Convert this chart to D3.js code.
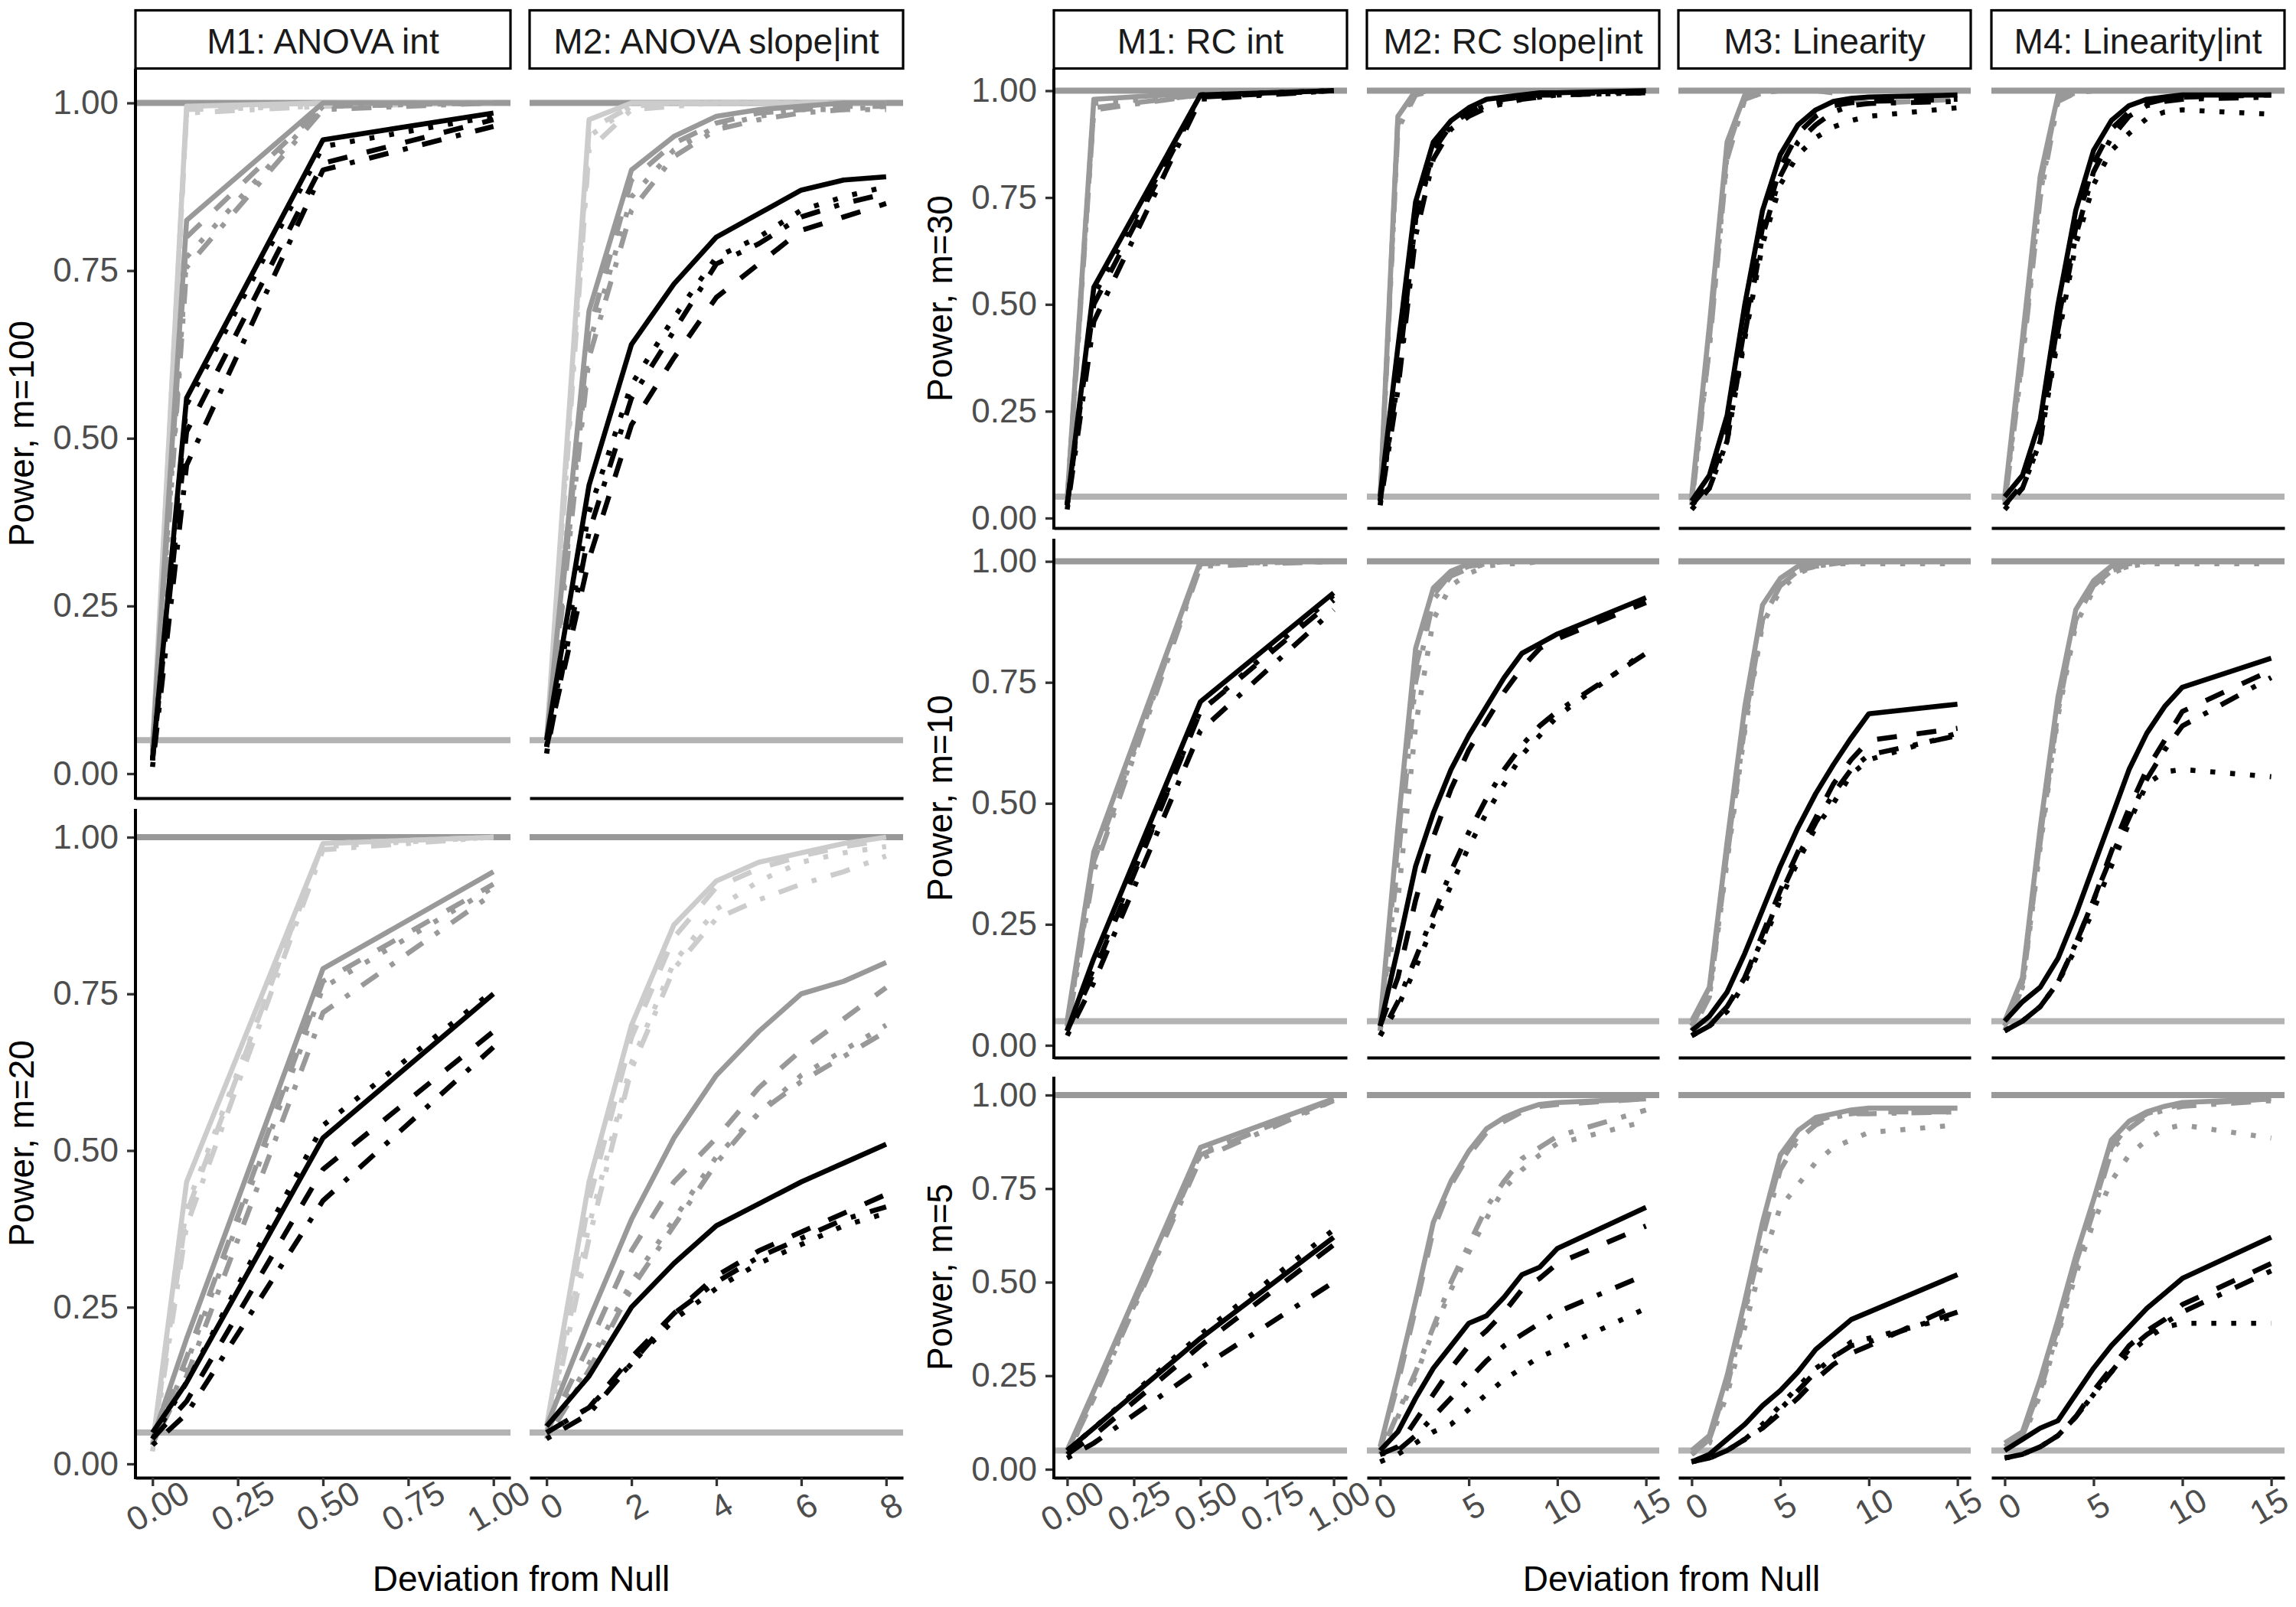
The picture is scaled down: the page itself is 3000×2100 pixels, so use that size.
<!DOCTYPE html>
<html>
<head>
<meta charset="utf-8">
<script src="https://cdn.jsdelivr.net/npm/d3@7"></script>
<style>
  body { margin: 0; background: #fff; }
  text { font-family: "Liberation Sans", Arial, Helvetica, sans-serif; }
</style>
</head>
<body>
<div id="chart"></div>
<script>
// ---- x grids (deviation from null) ----
const xInt = [0, 0.1, 0.5, 1];
const xSlope8 = [0, 1, 2, 3, 4, 5, 6, 7, 8];
const xDev15 = [0, 1, 2, 3, 4, 5, 6, 7, 8, 9, 10, 15];

// ---- tick labels ----
const yTicks = [0, 0.25, 0.5, 0.75, 1];
const xTicksUnit = [0, 0.25, 0.5, 0.75, 1];
const xTicks8 = [0, 2, 4, 6, 8];
const xTicks15 = [0, 5, 10, 15];

const leftTitles = ["M1: ANOVA int", "M2: ANOVA slope|int"];
const rightTitles = ["M1: RC int", "M2: RC slope|int", "M3: Linearity", "M4: Linearity|int"];
const leftRowLabels = ["Power, m=100", "Power, m=20"];
const rightRowLabels = ["Power, m=30", "Power, m=10", "Power, m=5"];

// groups (shade) and tests (linetype)
const leftGroups = ["light", "mid", "dark"];
const rightGroups = ["mid", "dark"];
const tests = ["A", "B", "C", "D"];

// power values: [group][test][i] at the panel's x grid
const anovaInt_m100 = [
  [[0.04, 0.995, 1, 1], [0.03, 0.99, 1, 1], [0.03, 0.99, 0.995, 1], [0.02, 0.985, 0.995, 1]],
  [[0.04, 0.825, 1, 1], [0.03, 0.80, 0.995, 1], [0.03, 0.77, 0.995, 1], [0.02, 0.755, 0.99, 1]],
  [[0.02, 0.56, 0.945, 0.985], [0.02, 0.51, 0.91, 0.975], [0.02, 0.55, 0.935, 0.98], [0.01, 0.46, 0.90, 0.965]]
];
const anovaSlope_m100 = [
  [[0.05, 0.975, 1, 1, 1, 1, 1, 1, 1], [0.04, 0.96, 0.995, 1, 1, 1, 1, 1, 1], [0.04, 0.95, 0.995, 1, 1, 1, 1, 1, 1], [0.03, 0.93, 0.99, 0.995, 1, 1, 1, 1, 1]],
  [[0.05, 0.69, 0.90, 0.95, 0.98, 0.99, 0.995, 1, 1], [0.04, 0.66, 0.885, 0.94, 0.97, 0.985, 0.99, 0.995, 0.995], [0.04, 0.64, 0.86, 0.93, 0.965, 0.98, 0.99, 0.99, 0.995], [0.03, 0.62, 0.84, 0.92, 0.96, 0.975, 0.985, 0.99, 0.99]],
  [[0.05, 0.43, 0.64, 0.73, 0.80, 0.835, 0.87, 0.885, 0.89], [0.04, 0.32, 0.52, 0.62, 0.71, 0.76, 0.81, 0.83, 0.85], [0.04, 0.39, 0.58, 0.68, 0.77, 0.80, 0.84, 0.86, 0.875], [0.03, 0.36, 0.56, 0.66, 0.76, 0.79, 0.83, 0.85, 0.865]]
];
const anovaInt_m20 = [
  [[0.03, 0.45, 0.99, 1], [0.03, 0.40, 0.99, 1], [0.03, 0.41, 0.985, 1], [0.02, 0.38, 0.98, 1]],
  [[0.04, 0.20, 0.79, 0.945], [0.03, 0.17, 0.77, 0.925], [0.03, 0.16, 0.76, 0.92], [0.03, 0.14, 0.72, 0.91]],
  [[0.05, 0.13, 0.52, 0.75], [0.04, 0.10, 0.47, 0.69], [0.04, 0.13, 0.54, 0.755], [0.03, 0.08, 0.42, 0.665]]
];
const anovaSlope_m20 = [
  [[0.06, 0.45, 0.70, 0.86, 0.93, 0.96, 0.975, 0.99, 1.0], [0.05, 0.42, 0.68, 0.84, 0.92, 0.95, 0.97, 0.985, 0.995], [0.05, 0.38, 0.64, 0.80, 0.885, 0.93, 0.96, 0.975, 0.985], [0.04, 0.36, 0.63, 0.79, 0.87, 0.90, 0.925, 0.945, 0.97]],
  [[0.06, 0.23, 0.39, 0.52, 0.62, 0.69, 0.75, 0.77, 0.80], [0.05, 0.19, 0.34, 0.45, 0.52, 0.60, 0.66, 0.71, 0.76], [0.05, 0.16, 0.29, 0.39, 0.49, 0.56, 0.62, 0.66, 0.70], [0.04, 0.15, 0.28, 0.38, 0.48, 0.56, 0.61, 0.65, 0.69]],
  [[0.06, 0.14, 0.25, 0.32, 0.38, 0.415, 0.45, 0.48, 0.51], [0.05, 0.09, 0.17, 0.24, 0.30, 0.34, 0.37, 0.40, 0.43], [0.05, 0.09, 0.16, 0.23, 0.28, 0.32, 0.35, 0.38, 0.40], [0.04, 0.08, 0.16, 0.24, 0.29, 0.33, 0.36, 0.39, 0.41]]
];

const rcInt_m30 = [
  [[0.045, 0.98, 0.995, 1], [0.04, 0.96, 0.99, 1], [0.04, 0.97, 0.99, 1], [0.03, 0.955, 0.99, 1]],
  [[0.03, 0.54, 0.99, 1], [0.03, 0.50, 0.985, 1], [0.03, 0.52, 0.99, 1], [0.02, 0.46, 0.98, 1]]
];
const rcSlope_m30 = [
  [[0.05, 0.94, 1, 1, 1, 1, 1, 1, 1, 1, 1, 1], [0.04, 0.93, 0.995, 1, 1, 1, 1, 1, 1, 1, 1, 1], [0.04, 0.92, 0.995, 1, 1, 1, 1, 1, 1, 1, 1, 1], [0.03, 0.91, 0.99, 1, 1, 1, 1, 1, 1, 1, 1, 1]],
  [[0.05, 0.40, 0.74, 0.88, 0.93, 0.96, 0.98, 0.985, 0.99, 0.995, 0.995, 1], [0.04, 0.33, 0.70, 0.86, 0.92, 0.95, 0.97, 0.98, 0.985, 0.99, 0.99, 1], [0.04, 0.32, 0.70, 0.85, 0.92, 0.95, 0.965, 0.975, 0.98, 0.985, 0.99, 0.995], [0.03, 0.30, 0.66, 0.84, 0.91, 0.94, 0.96, 0.97, 0.98, 0.985, 0.99, 0.995]]
];
const linearity_m30 = [
  [[0.05, 0.45, 0.88, 0.99, 1, 1, 1, 1, 1, 1, 1, 1], [0.04, 0.42, 0.86, 0.985, 1, 1, 1, 1, 0.995, 0.98, 0.97, 0.98], [0.04, 0.40, 0.85, 0.98, 0.995, 1, 1, 1, 1, 1, 1, 1], [0.03, 0.40, 0.84, 0.98, 0.995, 1, 1, 1, 1, 1, 1, 1]],
  [[0.04, 0.10, 0.24, 0.50, 0.72, 0.85, 0.92, 0.955, 0.975, 0.982, 0.985, 0.99], [0.03, 0.08, 0.20, 0.45, 0.68, 0.82, 0.90, 0.94, 0.965, 0.972, 0.975, 0.98], [0.03, 0.07, 0.18, 0.42, 0.64, 0.78, 0.85, 0.89, 0.915, 0.93, 0.94, 0.96], [0.02, 0.07, 0.18, 0.43, 0.66, 0.80, 0.88, 0.92, 0.95, 0.965, 0.97, 0.975]]
];
const linearityInt_m30 = [
  [[0.05, 0.42, 0.80, 0.99, 1, 1, 1, 1, 1, 1, 1, 1], [0.04, 0.40, 0.78, 0.985, 1, 1, 1, 1, 1, 1, 1, 1], [0.04, 0.38, 0.76, 0.98, 0.995, 1, 1, 1, 1, 1, 1, 1], [0.03, 0.37, 0.75, 0.975, 0.995, 1, 1, 1, 1, 1, 1, 1]],
  [[0.05, 0.10, 0.23, 0.50, 0.72, 0.86, 0.93, 0.965, 0.98, 0.985, 0.99, 0.99], [0.03, 0.08, 0.20, 0.46, 0.68, 0.83, 0.91, 0.95, 0.97, 0.98, 0.985, 0.99], [0.03, 0.07, 0.18, 0.42, 0.64, 0.78, 0.86, 0.90, 0.935, 0.95, 0.955, 0.945], [0.02, 0.07, 0.18, 0.44, 0.66, 0.81, 0.89, 0.94, 0.965, 0.975, 0.98, 0.985]]
];

const rcInt_m10 = [
  [[0.05, 0.40, 1.0, 1], [0.04, 0.38, 0.995, 1], [0.04, 0.37, 0.995, 1], [0.03, 0.36, 0.99, 1]],
  [[0.03, 0.18, 0.71, 0.935], [0.03, 0.15, 0.69, 0.92], [0.03, 0.16, 0.69, 0.93], [0.02, 0.13, 0.65, 0.90]]
];
const rcSlope_m10 = [
  [[0.05, 0.45, 0.82, 0.945, 0.98, 0.995, 1, 1, 1, 1, 1, 1], [0.04, 0.42, 0.78, 0.93, 0.975, 0.99, 0.995, 1, 1, 1, 1, 1], [0.03, 0.30, 0.66, 0.88, 0.95, 0.975, 0.99, 0.995, 0.995, 1, 1, 1], [0.03, 0.38, 0.75, 0.92, 0.97, 0.985, 0.995, 1, 1, 1, 1, 1]],
  [[0.04, 0.20, 0.37, 0.48, 0.57, 0.64, 0.70, 0.76, 0.81, 0.83, 0.85, 0.925], [0.04, 0.14, 0.30, 0.43, 0.53, 0.61, 0.67, 0.73, 0.78, 0.82, 0.84, 0.915], [0.02, 0.08, 0.16, 0.25, 0.33, 0.41, 0.48, 0.54, 0.60, 0.64, 0.68, 0.815], [0.02, 0.09, 0.18, 0.27, 0.36, 0.44, 0.51, 0.57, 0.62, 0.66, 0.69, 0.81]]
];
const linearity_m10 = [
  [[0.05, 0.12, 0.42, 0.70, 0.91, 0.965, 0.99, 0.995, 1, 1, 1, 1], [0.04, 0.11, 0.40, 0.67, 0.88, 0.95, 0.98, 0.99, 0.995, 1, 1, 1], [0.04, 0.10, 0.38, 0.65, 0.87, 0.94, 0.975, 0.99, 0.995, 0.995, 0.995, 0.995], [0.03, 0.10, 0.39, 0.66, 0.88, 0.95, 0.98, 0.99, 0.995, 1, 1, 1]],
  [[0.03, 0.06, 0.11, 0.19, 0.28, 0.37, 0.45, 0.52, 0.58, 0.635, 0.685, 0.705], [0.02, 0.04, 0.08, 0.14, 0.23, 0.32, 0.40, 0.47, 0.54, 0.59, 0.63, 0.655], [0.02, 0.04, 0.07, 0.13, 0.21, 0.30, 0.38, 0.45, 0.50, 0.56, 0.59, 0.645], [0.02, 0.04, 0.08, 0.14, 0.22, 0.31, 0.39, 0.46, 0.52, 0.57, 0.60, 0.64]]
];
const linearityInt_m10 = [
  [[0.05, 0.14, 0.45, 0.72, 0.90, 0.96, 0.99, 1, 1, 1, 1, 1], [0.04, 0.13, 0.43, 0.70, 0.88, 0.95, 0.98, 0.995, 1, 1, 1, 1], [0.04, 0.12, 0.41, 0.68, 0.87, 0.94, 0.975, 0.99, 0.995, 0.995, 0.995, 0.995], [0.03, 0.12, 0.42, 0.69, 0.88, 0.95, 0.98, 0.99, 1, 1, 1, 1]],
  [[0.05, 0.09, 0.12, 0.18, 0.27, 0.37, 0.47, 0.57, 0.645, 0.70, 0.74, 0.80], [0.03, 0.05, 0.08, 0.13, 0.21, 0.30, 0.40, 0.49, 0.57, 0.63, 0.69, 0.775], [0.03, 0.05, 0.08, 0.13, 0.20, 0.28, 0.37, 0.46, 0.54, 0.565, 0.57, 0.555], [0.03, 0.05, 0.08, 0.13, 0.21, 0.30, 0.39, 0.47, 0.55, 0.61, 0.66, 0.76]]
];

const rcInt_m5 = [
  [[0.05, 0.21, 0.86, 0.99], [0.05, 0.20, 0.84, 0.99], [0.04, 0.19, 0.845, 0.985], [0.04, 0.19, 0.83, 0.985]],
  [[0.05, 0.11, 0.35, 0.62], [0.04, 0.09, 0.33, 0.60], [0.05, 0.11, 0.36, 0.64], [0.03, 0.07, 0.27, 0.50]]
];
const rcSlope_m5 = [
  [[0.06, 0.25, 0.45, 0.66, 0.77, 0.85, 0.91, 0.94, 0.96, 0.975, 0.98, 0.99], [0.05, 0.23, 0.43, 0.64, 0.76, 0.84, 0.90, 0.93, 0.955, 0.97, 0.975, 0.99], [0.04, 0.14, 0.25, 0.37, 0.48, 0.58, 0.67, 0.75, 0.80, 0.84, 0.87, 0.93], [0.04, 0.15, 0.26, 0.38, 0.50, 0.60, 0.70, 0.77, 0.83, 0.86, 0.89, 0.96]],
  [[0.05, 0.10, 0.19, 0.27, 0.33, 0.39, 0.41, 0.46, 0.52, 0.54, 0.59, 0.70], [0.04, 0.06, 0.13, 0.20, 0.27, 0.33, 0.37, 0.42, 0.48, 0.51, 0.55, 0.65], [0.02, 0.04, 0.07, 0.10, 0.12, 0.16, 0.20, 0.24, 0.27, 0.30, 0.32, 0.43], [0.04, 0.05, 0.09, 0.14, 0.19, 0.24, 0.29, 0.33, 0.36, 0.39, 0.42, 0.52]]
];
const linearity_m5 = [
  [[0.05, 0.09, 0.25, 0.45, 0.66, 0.84, 0.905, 0.94, 0.95, 0.96, 0.965, 0.965], [0.04, 0.08, 0.23, 0.43, 0.64, 0.82, 0.89, 0.93, 0.945, 0.95, 0.955, 0.955], [0.04, 0.07, 0.20, 0.38, 0.56, 0.70, 0.76, 0.82, 0.86, 0.88, 0.90, 0.92], [0.04, 0.08, 0.22, 0.42, 0.62, 0.80, 0.88, 0.92, 0.94, 0.95, 0.95, 0.955]],
  [[0.02, 0.04, 0.08, 0.12, 0.17, 0.21, 0.26, 0.32, 0.36, 0.40, 0.42, 0.52], [0.02, 0.03, 0.05, 0.08, 0.11, 0.15, 0.19, 0.24, 0.28, 0.31, 0.33, 0.44], [0.02, 0.03, 0.05, 0.08, 0.12, 0.17, 0.22, 0.27, 0.30, 0.34, 0.35, 0.41], [0.02, 0.03, 0.05, 0.08, 0.11, 0.16, 0.21, 0.26, 0.30, 0.33, 0.34, 0.42]]
];
const linearityInt_m5 = [
  [[0.07, 0.10, 0.24, 0.40, 0.57, 0.72, 0.88, 0.93, 0.955, 0.97, 0.98, 0.99], [0.06, 0.09, 0.22, 0.38, 0.55, 0.70, 0.86, 0.92, 0.95, 0.965, 0.975, 0.99], [0.05, 0.08, 0.20, 0.36, 0.52, 0.66, 0.77, 0.84, 0.88, 0.91, 0.92, 0.885], [0.05, 0.09, 0.21, 0.37, 0.54, 0.69, 0.85, 0.91, 0.945, 0.96, 0.97, 0.985]],
  [[0.05, 0.08, 0.11, 0.13, 0.20, 0.27, 0.33, 0.38, 0.43, 0.47, 0.51, 0.62], [0.03, 0.04, 0.06, 0.09, 0.14, 0.21, 0.27, 0.33, 0.37, 0.40, 0.44, 0.55], [0.03, 0.04, 0.06, 0.09, 0.14, 0.20, 0.26, 0.31, 0.35, 0.38, 0.39, 0.39], [0.03, 0.04, 0.06, 0.09, 0.14, 0.20, 0.26, 0.32, 0.36, 0.39, 0.42, 0.53]]
];

const leftData = [[anovaInt_m100, anovaSlope_m100], [anovaInt_m20, anovaSlope_m20]];
const rightData = [
  [rcInt_m30, rcSlope_m30, linearity_m30, linearityInt_m30],
  [rcInt_m10, rcSlope_m10, linearity_m10, linearityInt_m10],
  [rcInt_m5, rcSlope_m5, linearity_m5, linearityInt_m5]
];
const refLines = [1, 0.05];

// ---- styles ----
const shadeColor = { light: "#CCCCCC", mid: "#999999", dark: "#000000" };
const testDash = { A: null, B: "26,26", C: "6.5,19.5", D: "6.5,19.5,26,19.5" };
const refColor = { 1: "#999999", 0.05: "#B3B3B3" };

// ---- layout (pixels) ----
const W = 3000, H = 2100;
const stripTop = 13.5, stripBot = 89.5;
const leftBlock = {
  cols: [[177, 667], [692, 1180]],
  rows: [{ top: 90, bot: 1043, y0: 1011, y1: 134.5 }, { top: 1057, bot: 1931, y0: 1913, y1: 1094 }],
  xs: [xInt, xSlope8], ext: [[0, 1], [0, 8]], ticks: [xTicksUnit, xTicks8], fmt: [".2f", "d"],
  titles: leftTitles, rowLabels: leftRowLabels, groups: leftGroups, data: leftData,
  yTitleX: 44, xTitleX: 681
};
const rightBlock = {
  cols: [[1377, 1760], [1786, 2168], [2193, 2575], [2602, 2985]],
  rows: [{ top: 90, bot: 690, y0: 677, y1: 118.5 }, { top: 704, bot: 1382, y0: 1366, y1: 733.6 }, { top: 1407, bot: 1931, y0: 1920, y1: 1431 }],
  xs: [xInt, xDev15, xDev15, xDev15], ext: [[0, 1], [0, 15], [0, 15], [0, 15]],
  ticks: [xTicksUnit, xTicks15, xTicks15, xTicks15], fmt: [".2f", "d", "d", "d"],
  titles: rightTitles, rowLabels: rightRowLabels, groups: rightGroups, data: rightData,
  yTitleX: 1244, xTitleX: 2184
};

const svg = d3.select("#chart").append("svg")
  .attr("width", W).attr("height", H)
  .attr("viewBox", `0 0 ${W} ${H}`);
svg.append("rect").attr("width", W).attr("height", H).attr("fill", "#fff");

function drawBlock(b) {
  const nRows = b.rows.length;
  // strips
  b.cols.forEach(([x0, x1], c) => {
    svg.append("rect")
      .attr("x", x0).attr("y", stripTop).attr("width", x1 - x0).attr("height", stripBot - stripTop)
      .attr("fill", "#fff").attr("stroke", "#000").attr("stroke-width", 3.2);
    svg.append("text")
      .attr("x", (x0 + x1) / 2).attr("y", (stripTop + stripBot) / 2 + 2)
      .attr("text-anchor", "middle").attr("dominant-baseline", "central")
      .attr("font-size", 46).attr("fill", "#1A1A1A")
      .text(b.titles[c]);
  });

  b.rows.forEach((row, r) => {
    const yScale = d3.scaleLinear().domain([0, 1]).range([row.y0, row.y1]);
    const isBottom = r === nRows - 1;

    b.cols.forEach(([x0, x1], c) => {
      const ext = b.ext[c];
      const pad = (ext[1] - ext[0]) * 0.05;
      const xScale = d3.scaleLinear().domain([ext[0] - pad, ext[1] + pad]).range([x0, x1]);
      const g = svg.append("g").attr("class", "panel");

      // reference lines
      refLines.forEach(v => {
        g.append("line")
          .attr("x1", x0).attr("x2", x1)
          .attr("y1", yScale(v)).attr("y2", yScale(v))
          .attr("stroke", refColor[v]).attr("stroke-width", 8);
      });

      // power curves
      const xs = b.xs[c];
      const line = d3.line().x((d, i) => xScale(xs[i])).y(d => yScale(d));
      const panelData = b.data[r][c];
      b.groups.forEach((grp, gi) => {
        tests.forEach((t, ti) => {
          g.append("path")
            .attr("d", line(panelData[gi][ti]))
            .attr("fill", "none")
            .attr("stroke", shadeColor[grp])
            .attr("stroke-width", 6.6)
            .attr("stroke-linejoin", "round")
            .attr("stroke-linecap", "butt")
            .attr("stroke-dasharray", testDash[t]);
        });
      });

      // x axis
      const xAxis = d3.axisBottom(xScale)
        .tickValues(isBottom ? b.ticks[c] : [])
        .tickFormat(d3.format(b.fmt[c]))
        .tickSize(11).tickSizeOuter(0);
      const ax = svg.append("g").attr("transform", `translate(0,${row.bot})`).call(xAxis);
      ax.select(".domain").attr("stroke", "#000").attr("stroke-width", 4);
      ax.selectAll(".tick line").attr("stroke", "#333").attr("stroke-width", 3.3);
      ax.selectAll(".tick text")
        .attr("x", null).attr("y", null).attr("dy", null)
        .attr("font-size", 44).attr("fill", "#4D4D4D")
        .attr("font-family", '"Liberation Sans", Arial, sans-serif')
        .attr("text-anchor", "middle").attr("dominant-baseline", "central")
        .attr("transform", "translate(6,37) rotate(-30)")
        .each(function () {
          // keep rotated labels inside the picture
          const box = this.getBoundingClientRect();
          const over = box.right - (W - 2);
          if (over > 0) d3.select(this).attr("transform", `translate(${6 - over},37) rotate(-30)`);
        });

      // y axis on the first column of the block
      if (c === 0) {
        const yAxis = d3.axisLeft(yScale).tickValues(yTicks)
          .tickFormat(d3.format(".2f")).tickSize(11).tickPadding(11).tickSizeOuter(0);
        const ay = svg.append("g").attr("transform", `translate(${x0},0)`).call(yAxis);
        ay.select(".domain").remove();
        ay.append("line").attr("x1", 0).attr("x2", 0).attr("y1", row.top).attr("y2", row.bot + 2)
          .attr("stroke", "#000").attr("stroke-width", 4);
        ay.selectAll(".tick line").attr("stroke", "#333").attr("stroke-width", 3.3);
        ay.selectAll(".tick text")
          .attr("font-size", 44).attr("fill", "#4D4D4D")
          .attr("font-family", '"Liberation Sans", Arial, sans-serif');
      }
    });

    // y title
    svg.append("text")
      .attr("transform", `translate(${b.yTitleX},${(row.top + row.bot) / 2}) rotate(-90)`)
      .attr("text-anchor", "middle").attr("font-size", 46).attr("fill", "#000")
      .text(b.rowLabels[r]);
  });

  // x title
  svg.append("text")
    .attr("x", b.xTitleX).attr("y", 2079)
    .attr("text-anchor", "middle").attr("font-size", 46).attr("fill", "#000")
    .text("Deviation from Null");
}

drawBlock(leftBlock);
drawBlock(rightBlock);
</script>
</body>
</html>
